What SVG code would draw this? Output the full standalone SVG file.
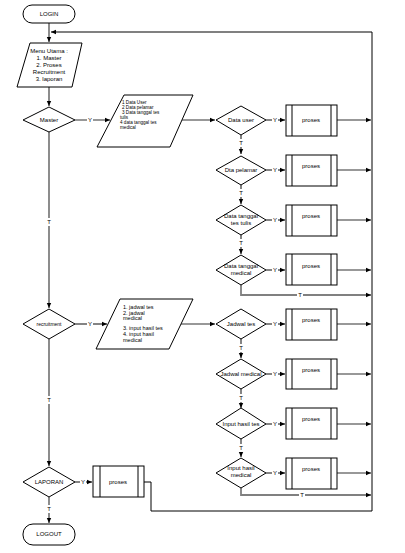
<svg xmlns="http://www.w3.org/2000/svg" width="405" height="553" viewBox="0 0 405 553">
<defs>
<marker id="ah" markerWidth="6" markerHeight="6" refX="5" refY="3" orient="auto" markerUnits="userSpaceOnUse">
<path d="M0,0.8 L5,3 L0,5.2 z" fill="#000"/>
</marker>
<style>
text{font-family:"Liberation Sans",Arial,sans-serif;fill:#000;}
.s{fill:#fff;stroke:#000;stroke-width:1;}
.t6{font-size:6px;text-anchor:middle;}
.t5{font-size:4.6px;}
.t55{font-size:5.5px;}
.lbl{font-size:6px;text-anchor:middle;}
.bg{fill:#fff;stroke:none;}
.g{fill:none;stroke:#808080;stroke-width:1.8;}
.d{fill:none;stroke:#333;stroke-width:1.2;}
.k{fill:none;stroke:#000;stroke-width:1;}
</style>
</defs>
<rect width="405" height="553" fill="#fff"/>

<g id="connectors">
<path class="g" d="M49,23 V42" marker-end="url(#ah)"/>
<path class="g" d="M372,32 H51" marker-end="url(#ah)"/>
<path class="k" d="M372,32 V511"/>
<path class="g" d="M49,87 V106" marker-end="url(#ah)"/>
<path class="g" d="M49,132 V308" marker-end="url(#ah)"/>
<path class="g" d="M49,339 V466" marker-end="url(#ah)"/>
<path class="g" d="M49,497 V523" marker-end="url(#ah)"/>
<path class="d" d="M75,120 H110" marker-end="url(#ah)"/>
<path class="d" d="M182,120 H215" marker-end="url(#ah)"/>
<path class="d" d="M75,324 H107" marker-end="url(#ah)"/>
<path class="d" d="M181,324 H215" marker-end="url(#ah)"/>
<path class="d" d="M266,120 H285" marker-end="url(#ah)"/>
<path class="d" d="M266,170 H285" marker-end="url(#ah)"/>
<path class="d" d="M266,220 H285" marker-end="url(#ah)"/>
<path class="d" d="M266,270 H285" marker-end="url(#ah)"/>
<path class="d" d="M337,120 H371" marker-end="url(#ah)"/>
<path class="d" d="M337,170 H371" marker-end="url(#ah)"/>
<path class="d" d="M337,220 H371" marker-end="url(#ah)"/>
<path class="d" d="M337,270 H371" marker-end="url(#ah)"/>
<path class="d" d="M241,135 V154" marker-end="url(#ah)"/>
<path class="d" d="M241,185 V204" marker-end="url(#ah)"/>
<path class="d" d="M241,235 V254" marker-end="url(#ah)"/>
<path class="g" d="M241,285 V295 H371" marker-end="url(#ah)"/>
<path class="d" d="M266,324 H285" marker-end="url(#ah)"/>
<path class="d" d="M266,374 H285" marker-end="url(#ah)"/>
<path class="d" d="M266,424 H285" marker-end="url(#ah)"/>
<path class="d" d="M266,473 H285" marker-end="url(#ah)"/>
<path class="d" d="M337,324 H371" marker-end="url(#ah)"/>
<path class="d" d="M337,374 H371" marker-end="url(#ah)"/>
<path class="d" d="M337,424 H371" marker-end="url(#ah)"/>
<path class="d" d="M337,473 H371" marker-end="url(#ah)"/>
<path class="d" d="M241,339 V358" marker-end="url(#ah)"/>
<path class="d" d="M241,389 V408" marker-end="url(#ah)"/>
<path class="d" d="M241,439 V457" marker-end="url(#ah)"/>
<path class="g" d="M241,488 V495 H371" marker-end="url(#ah)"/>
<path class="d" d="M75,482 H92" marker-end="url(#ah)"/>
<path class="k" d="M144,482 H151 V511 H372"/>
<g id="labels">
<rect class="bg" x="87" y="116" width="6" height="8"/><text class="lbl" x="90" y="122">Y</text>
<rect class="bg" x="87" y="320" width="6" height="8"/><text class="lbl" x="90" y="326">Y</text>
<rect class="bg" x="80" y="478" width="6" height="8"/><text class="lbl" x="83" y="484">Y</text>
<rect class="bg" x="46" y="218" width="6" height="8"/><text class="lbl" x="49" y="224">T</text>
<rect class="bg" x="46" y="396" width="6" height="8"/><text class="lbl" x="49" y="402">T</text>
<rect class="bg" x="46" y="505" width="6" height="8"/><text class="lbl" x="49" y="511">T</text>
<rect class="bg" x="272" y="116" width="6" height="8"/><text class="lbl" x="275" y="122">Y</text>
<rect class="bg" x="272" y="166" width="6" height="8"/><text class="lbl" x="275" y="172">Y</text>
<rect class="bg" x="272" y="216" width="6" height="8"/><text class="lbl" x="275" y="222">Y</text>
<rect class="bg" x="272" y="266" width="6" height="8"/><text class="lbl" x="275" y="272">Y</text>
<rect class="bg" x="272" y="320" width="6" height="8"/><text class="lbl" x="275" y="326">Y</text>
<rect class="bg" x="272" y="370" width="6" height="8"/><text class="lbl" x="275" y="376">Y</text>
<rect class="bg" x="272" y="420" width="6" height="8"/><text class="lbl" x="275" y="426">Y</text>
<rect class="bg" x="272" y="469" width="6" height="8"/><text class="lbl" x="275" y="475">Y</text>
<rect class="bg" x="238" y="139" width="6" height="8"/><text class="lbl" x="241" y="145">T</text>
<rect class="bg" x="238" y="189" width="6" height="8"/><text class="lbl" x="241" y="195">T</text>
<rect class="bg" x="238" y="239" width="6" height="8"/><text class="lbl" x="241" y="245">T</text>
<rect class="bg" x="297" y="291" width="6" height="8"/><text class="lbl" x="300" y="297">T</text>
<rect class="bg" x="238" y="344" width="6" height="8"/><text class="lbl" x="241" y="350">T</text>
<rect class="bg" x="238" y="394" width="6" height="8"/><text class="lbl" x="241" y="400">T</text>
<rect class="bg" x="238" y="444" width="6" height="8"/><text class="lbl" x="241" y="450">T</text>
<rect class="bg" x="299" y="491" width="6" height="8"/><text class="lbl" x="302" y="497">T</text>
</g>
</g>

<g id="login">
<rect class="s" x="23" y="5" width="52" height="18" rx="9"/>
<text class="t6" x="49" y="16">LOGIN</text>
</g>

<g id="menu">
<polygon class="s" points="30,43 82,43 72,87 17,87"/>
<text class="t6" x="49" y="53">Menu Utama :</text>
<text class="t6" x="49" y="60">1. Master</text>
<text class="t6" x="49" y="67">2. Proses</text>
<text class="t6" x="49" y="74">Recruitment</text>
<text class="t6" x="49" y="81">3. laporan</text>
</g>

<g id="master">
<polygon class="s" points="49,107 75,120 49,132 23,120"/>
<text class="t6" x="49" y="122">Master</text>
</g>

<g id="master-list" xml:space="preserve">
<polygon class="s" points="124,95 193,95 170,147 97,147"/>
<text class="t5" x="122" y="104">1  Data User</text>
<text class="t5" x="122" y="109">2    Data pelamar</text>
<text class="t5" x="122" y="114">3  Data tanggal tes</text>
<text class="t5" x="120" y="119">tulis</text>
<text class="t5" x="120" y="124">4  data tanggal tes</text>
<text class="t5" x="120" y="129">medical</text>
</g>

<g id="d-datauser">
<polygon class="s" points="241,106 266,120 241,135 216,120"/>
<text class="t6" x="241" y="122">Data user</text>
</g>
<g id="d-pelamar">
<polygon class="s" points="241,156 266,170 241,185 216,170"/>
<text class="t6" x="241" y="172">Dta pelamar</text>
</g>
<g id="d-tulis">
<polygon class="s" points="241,205 266,220 241,235 216,220"/>
<text class="t6" x="241" y="218">Data tanggal</text>
<text class="t6" x="241" y="225">tes tulis</text>
</g>
<g id="d-medical">
<polygon class="s" points="241,255 266,270 241,285 216,270"/>
<text class="t6" x="241" y="268">Data tanggal</text>
<text class="t6" x="241" y="275">medical</text>
</g>

<g id="p1">
<rect class="s" x="286" y="105" width="51" height="31"/>
<path class="k" d="M292,105 V136 M331,105 V136"/>
<text class="t6" x="311" y="122">proses</text>
</g>
<g id="p2">
<rect class="s" x="286" y="155" width="51" height="31"/>
<path class="k" d="M292,155 V186 M331,155 V186"/>
<text class="t6" x="311" y="168">proses</text>
</g>
<g id="p3">
<rect class="s" x="286" y="205" width="51" height="31"/>
<path class="k" d="M292,205 V236 M331,205 V236"/>
<text class="t6" x="311" y="218">proses</text>
</g>
<g id="p4">
<rect class="s" x="286" y="254" width="51" height="31"/>
<path class="k" d="M292,254 V285 M331,254 V285"/>
<text class="t6" x="311" y="268">proses</text>
</g>

<g id="recruitment">
<polygon class="s" points="49,309 75,324 49,339 23,324"/>
<text class="t6" x="49" y="326" style="font-size:5px">recruitment</text>
</g>

<g id="recruit-list">
<polygon class="s" points="120,299 193,299 169,349 96,349"/>
<text class="t55" x="123" y="309">1. jadwal tes</text>
<text class="t55" x="123" y="315">2. jadwal</text>
<text class="t55" x="123" y="320">medical</text>
<text class="t55" x="123" y="330">3. input hasil tes</text>
<text class="t55" x="123" y="336">4. input hasil</text>
<text class="t55" x="123" y="342">medical</text>
</g>

<g id="d-jadwaltes">
<polygon class="s" points="241,309 266,324 241,339 216,324"/>
<text class="t6" x="241" y="326">Jadwal tes</text>
</g>
<g id="d-jadwalmedical">
<polygon class="s" points="241,359 266,374 241,389 216,374"/>
<text class="t6" x="241" y="376">Jadwal medical</text>
</g>
<g id="d-inputtes">
<polygon class="s" points="241,408 266,424 241,439 216,424"/>
<text class="t6" x="241" y="426">Input hasil tes</text>
</g>
<g id="d-inputmedical">
<polygon class="s" points="241,458 266,473 241,488 216,473"/>
<text class="t6" x="241" y="470">Input hasil</text>
<text class="t6" x="241" y="477">medical</text>
</g>

<g id="p5">
<rect class="s" x="286" y="309" width="51" height="31"/>
<path class="k" d="M292,309 V340 M331,309 V340"/>
<text class="t6" x="311" y="322">proses</text>
</g>
<g id="p6">
<rect class="s" x="286" y="359" width="51" height="30"/>
<path class="k" d="M292,359 V389 M331,359 V389"/>
<text class="t6" x="311" y="372">proses</text>
</g>
<g id="p7">
<rect class="s" x="286" y="408" width="51" height="31"/>
<path class="k" d="M292,408 V439 M331,408 V439"/>
<text class="t6" x="311" y="421">proses</text>
</g>
<g id="p8">
<rect class="s" x="286" y="458" width="51" height="31"/>
<path class="k" d="M292,458 V489 M331,458 V489"/>
<text class="t6" x="311" y="471">proses</text>
</g>

<g id="laporan">
<polygon class="s" points="49,467 75,482 49,497 23,482"/>
<text class="t6" x="49" y="484">LAPORAN</text>
</g>
<g id="p9">
<rect class="s" x="93" y="466" width="51" height="31"/>
<path class="k" d="M100,466 V497 M138,466 V497"/>
<text class="t6" x="118" y="484">proses</text>
</g>

<g id="logout">
<rect class="s" x="23" y="524" width="52" height="21" rx="10"/>
<text class="t6" x="49" y="536">LOGOUT</text>
</g>
</svg>
